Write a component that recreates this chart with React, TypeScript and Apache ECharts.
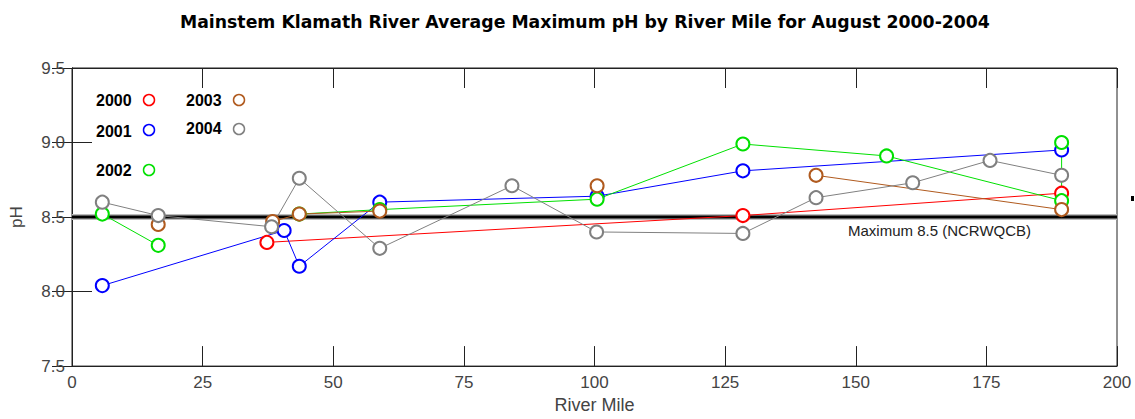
import React, { useEffect, useRef } from "react";
import * as echarts from "echarts";

const TITLE = "Mainstem Klamath River Average Maximum pH by River Mile for August 2000-2004";
const xTicks = [0, 25, 50, 75, 100, 125, 150, 175, 200];
const yTicks = [7.5, 8.0, 8.5, 9.0, 9.5];

const miles2000 = [37.3, 128.4, 189.4];
const ph2000 = [8.33, 8.51, 8.66];

const miles2001 = [5.8, 40.6, 43.5, 58.9, 100.5, 128.4, 189.4];
const ph2001 = [8.04, 8.41, 8.17, 8.6, 8.64, 8.81, 8.95];

const miles2002 = [5.8, 16.5, 30, 43.5, 58.9, 100.5, 128.4, 155.9, 189.4, 189.4];
const ph2002 = [8.52, 8.31, null, 8.52, 8.55, 8.62, 8.99, 8.91, 8.61, 9.0];

const miles2003 = [16.5, 30, 38.4, 43.5, 58.9, 80, 100.5, 120, 142.4, 189.4];
const ph2003 = [8.45, null, 8.47, 8.52, 8.54, null, 8.71, null, 8.78, 8.55];

const miles2004 = [5.8, 16.5, 38.2, 43.5, 58.9, 84.2, 100.4, 128.4, 142.4, 160.9, 175.7, 189.4];
const ph2004 = [8.6, 8.51, 8.435, 8.76, 8.29, 8.71, 8.4, 8.39, 8.63, 8.73, 8.88, 8.78];

const limitMiles = [0, 200];
const limitPh = [8.5, 8.5];
const limitLabel = "Maximum 8.5 (NCRWQCB)";

const years = ["2000", "2001", "2002", "2003", "2004"];
const colors = ["#ff0000", "#0000ff", "#00e000", "#b05a1e", "#808080"];
const seriesMiles = [miles2000, miles2001, miles2002, miles2003, miles2004];
const seriesPh = [ph2000, ph2001, ph2002, ph2003, ph2004];

const FONT = "'Liberation Sans', Arial, sans-serif";
const TITLE_FONT = "'DejaVu Sans', 'Liberation Sans', sans-serif";

export default function App() {
  const ref = useRef<HTMLDivElement>(null);
  useEffect(() => {
    if (!ref.current) return;
    const chart = echarts.init(ref.current, undefined, { renderer: "svg" });
    const pair = (ms: number[], ps: (number | null)[]) =>
      ms.map((m, i) => (ps[i] === null ? [m, "-"] : [m, ps[i]]));

    const dataSeries = years.map((y, k) => ({
      name: y,
      type: "line",
      data: pair(seriesMiles[k], seriesPh[k]),
      symbol: "emptyCircle",
      symbolSize: 13,
      showAllSymbol: true,
      connectNulls: false,
      lineStyle: { width: 1, color: colors[k] },
      itemStyle: { color: colors[k], borderColor: colors[k], borderWidth: 1 },
      z: 3,
    }));

    const legendPos = [
      { tx: 96, ty: 101, cx: 149, cy: 100 },
      { tx: 96, ty: 132, cx: 149, cy: 130 },
      { tx: 96, ty: 171, cx: 149, cy: 170 },
      { tx: 186, ty: 101, cx: 239, cy: 100 },
      { tx: 186, ty: 129, cx: 239, cy: 129 },
    ];
    const legendGraphics: any[] = [];
    years.forEach((y, k) => {
      const p = legendPos[k];
      legendGraphics.push({
        type: "text",
        left: p.tx,
        top: p.ty - 9,
        style: { text: y, fill: "#000", font: `bold 16px ${FONT}` },
        z: 10,
      });
      legendGraphics.push({
        type: "circle",
        shape: { cx: p.cx, cy: p.cy, r: 5.5 },
        style: { fill: "none", stroke: colors[k], lineWidth: 1.5 },
        z: 10,
      });
    });

    const axisTxt = { fontFamily: FONT, fontSize: 17, color: "#444" };

    chart.setOption({
      animation: false,
      title: {
        text: TITLE,
        left: 175,
        top: 8,
        textStyle: { fontFamily: TITLE_FONT, fontSize: 17.3, fontWeight: "bold", color: "#000" },
      },
      grid: {
        left: 72,
        right: 18,
        top: 68,
        bottom: 51,
        show: true,
        borderColor: "#222",
        borderWidth: 1,
        backgroundColor: "transparent",
      },
      xAxis: [
        {
          type: "value",
          min: xTicks[0],
          max: xTicks[xTicks.length - 1],
          interval: 25,
          name: "River Mile",
          nameLocation: "middle",
          nameGap: 29,
          nameTextStyle: { fontFamily: FONT, fontSize: 18, color: "#444" },
          axisLine: { show: true, lineStyle: { color: "#222" } },
          axisTick: { show: true, inside: true, length: 20, lineStyle: { color: "#222" } },
          axisLabel: { ...axisTxt, margin: 8 },
          splitLine: { show: false },
        },
        {
          type: "value",
          position: "top",
          min: xTicks[0],
          max: xTicks[xTicks.length - 1],
          interval: 25,
          axisLine: { show: true, lineStyle: { color: "#222" } },
          axisTick: { show: true, inside: true, length: 20, lineStyle: { color: "#222" } },
          axisLabel: { show: false },
          splitLine: { show: false },
        },
      ],
      yAxis: [
        {
          type: "value",
          min: yTicks[0],
          max: yTicks[yTicks.length - 1],
          interval: 0.5,
          name: "pH",
          nameLocation: "middle",
          nameGap: 47,
          nameRotate: 90,
          nameTextStyle: { fontFamily: FONT, fontSize: 17, color: "#444" },
          axisLine: { show: true, lineStyle: { color: "#222" } },
          axisTick: { show: true, inside: true, length: 20, lineStyle: { color: "#222" } },
          axisLabel: { ...axisTxt, margin: 7, formatter: (v: number) => v.toFixed(1) },
          splitLine: { show: false },
        },
        {
          type: "value",
          position: "right",
          min: yTicks[0],
          max: yTicks[yTicks.length - 1],
          interval: 0.5,
          axisLine: { show: true, lineStyle: { color: "#222" } },
          axisTick: { show: true, inside: true, length: 20, lineStyle: { color: "#222" } },
          axisLabel: { show: false },
          splitLine: { show: false },
        },
      ],
      series: [
        {
          name: "limitHalo",
          type: "line",
          data: limitMiles.map((m, i) => [m, limitPh[i]]),
          symbol: "none",
          lineStyle: { width: 6, color: "#bbbbbb" },
          z: 1,
          silent: true,
        },
        {
          name: "limit",
          type: "line",
          data: limitMiles.map((m, i) => [m, limitPh[i]]),
          symbol: "none",
          lineStyle: { width: 3, color: "#000" },
          z: 2,
          silent: true,
        },
        ...dataSeries,
      ],
      graphic: [
        ...legendGraphics,
        {
          type: "text",
          left: 848,
          top: 223,
          style: { text: limitLabel, fill: "#222", font: `15px ${FONT}` },
          z: 10,
        },
        {
          type: "rect",
          shape: { x: 1131, y: 196, width: 3, height: 5 },
          style: { fill: "#000" },
        },
      ],
    });
    return () => chart.dispose();
  }, []);
  return <div ref={ref} style={{ width: 1135, height: 419, position: "absolute", left: 0, top: 0 }} />;
}
